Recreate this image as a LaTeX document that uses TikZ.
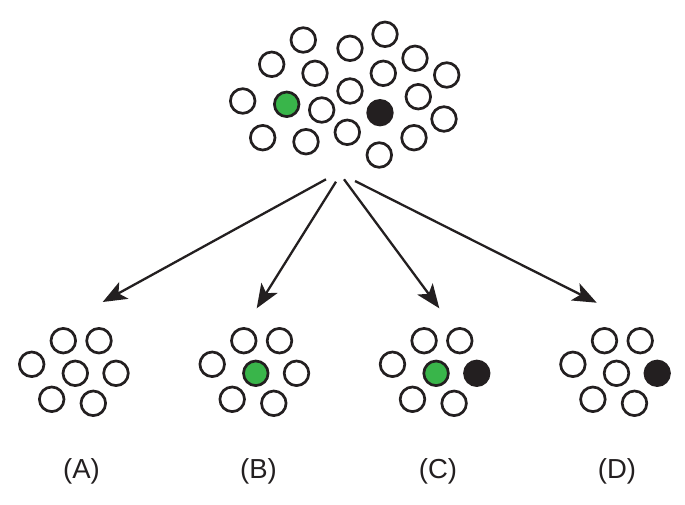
\documentclass[tikz,border=0pt]{standalone}
\usepackage{fontspec}
\setmainfont{Liberation Sans}
\usetikzlibrary{arrows.meta}
\definecolor{ballgreen}{HTML}{39B54A}
\definecolor{ballblack}{HTML}{231F20}
\begin{document}
\begin{tikzpicture}[x=1pt,y=-1pt,
  ball/.style={circle, draw=ballblack, line width=2.7pt, inner sep=0pt, minimum size=24.6pt, fill=white},
  gball/.style={ball, fill=ballgreen},
  bball/.style={ball, fill=ballblack},
  arr/.style={line width=2.3pt, draw=ballblack, -{Stealth[length=24pt,width=19pt,inset=6pt]}},
  lab/.style={font=\fontsize{27.5}{32}\selectfont, text=ballblack}]
\useasboundingbox (0,0) rectangle (685,504);
% top cluster
\node[ball] (t1) at (303.3,40) {};
\node[ball] (t2) at (350,48.3) {};
\node[ball] (t3) at (385,34.3) {};
\node[ball] (t4) at (271.7,64.3) {};
\node[ball] (t5) at (315,73.3) {};
\node[ball] (t6) at (383.3,73.3) {};
\node[ball] (t7) at (415,58.3) {};
\node[ball] (t8) at (446.7,75) {};
\node[ball] (t9) at (242.7,101) {};
\node[gball] (t10) at (286.7,104.3) {};
\node[ball] (t11) at (350,91) {};
\node[ball] (t12) at (321.7,110) {};
\node[bball] (t13) at (380,112.7) {};
\node[ball] (t14) at (418.3,96.7) {};
\node[ball] (t15) at (444,119) {};
\node[ball] (t16) at (262.7,137.7) {};
\node[ball] (t17) at (306,141.7) {};
\node[ball] (t18) at (347.3,132.3) {};
\node[ball] (t19) at (379.3,155) {};
\node[ball] (t20) at (414,137.7) {};
% group A
\begin{scope}[shift={(0,0)}]
\node[ball] (a1) at (63.3,340.7) {};
\node[ball] (a2) at (99,340.7) {};
\node[ball] (a3) at (31.7,364.3) {};
\node[ball] (a4) at (75.3,373.3) {};
\node[ball] (a5) at (116,373.3) {};
\node[ball] (a6) at (51.7,399.3) {};
\node[ball] (a7) at (93.3,403.3) {};
\end{scope}
% group B
\begin{scope}[shift={(180.5,0)}]
\node[ball] (b1) at (63.3,340.7) {};
\node[ball] (b2) at (99,340.7) {};
\node[ball] (b3) at (31.7,364.3) {};
\node[gball] (b4) at (75.3,373.3) {};
\node[ball] (b5) at (116,373.3) {};
\node[ball] (b6) at (51.7,399.3) {};
\node[ball] (b7) at (93.3,403.3) {};
\end{scope}
% group C
\begin{scope}[shift={(360.8,0)}]
\node[ball] (c1) at (63.3,340.7) {};
\node[ball] (c2) at (99,340.7) {};
\node[ball] (c3) at (31.7,364.3) {};
\node[gball] (c4) at (75.3,373.3) {};
\node[bball] (c5) at (116,373.3) {};
\node[ball] (c6) at (51.7,399.3) {};
\node[ball] (c7) at (93.3,403.3) {};
\end{scope}
% group D
\begin{scope}[shift={(541.2,0)}]
\node[ball] (d1) at (63.3,340.7) {};
\node[ball] (d2) at (99,340.7) {};
\node[ball] (d3) at (31.7,364.3) {};
\node[ball] (d4) at (75.3,373.3) {};
\node[bball] (d5) at (116,373.3) {};
\node[ball] (d6) at (51.7,399.3) {};
\node[ball] (d7) at (93.3,403.3) {};
\end{scope}
% labels
\node[lab] (la) at (81.5,471.5) {(A)};
\node[lab] (lb) at (258.5,471.5) {(B)};
\node[lab] (lc) at (438,471.5) {(C)};
\node[lab] (ld) at (617,471.5) {(D)};
% arrows
\coordinate (s1) at (326,179.3);
\coordinate (s2) at (336,181.7);
\coordinate (s3) at (344,179.3);
\coordinate (s4) at (355,181);
\coordinate (e1) at (102.7,302);
\coordinate (e2) at (256.7,308.3);
\coordinate (e3) at (439.3,308.3);
\coordinate (e4) at (596.7,302.7);
\draw[arr] (s1) -- (e1);
\draw[arr] (s2) -- (e2);
\draw[arr] (s3) -- (e3);
\draw[arr] (s4) -- (e4);
\end{tikzpicture}
\end{document}
